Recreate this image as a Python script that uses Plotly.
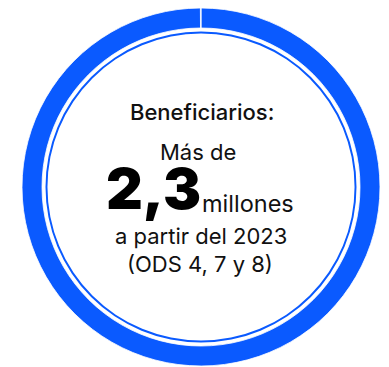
import plotly.graph_objects as go

# ---- data ----
ring_labels = ["Beneficiarios", "inicio"]
ring_values = [99.95, 0.05]
inner_values = [1]
title_text = "Beneficiarios:"
lead_text = "Más de"
big_number = "2,3"
unit_text = "millones"
line3_text = "a partir del 2023"
line4_text = "(ODS 4, 7 y 8)"

BLUE = "#0A5AFF"
W, H = 389, 367
CX, CY = 193, 179  # ring centre in plot px (from top-left of the plot div)

def xd(px):
    return px / W

def yd(px_from_top):
    return 1 - px_from_top / H

R1 = 179.0      # outer radius of the thick ring
T1 = 20.0       # thickness
R2 = 155.5      # outer radius of the thin ring
T2 = 2.0

def dom(r):
    return dict(x=[xd(CX - r), xd(CX + r)],
                y=[max(0.0, yd(CY + r)), min(1.0, yd(CY - r))])

fig = go.Figure()
fig.add_trace(go.Pie(
    labels=ring_labels, values=ring_values, hole=(R1 - T1) / R1, sort=False,
    marker=dict(colors=[BLUE, BLUE], line=dict(color="white", width=0.8)),
    textinfo="none", hoverinfo="skip", showlegend=False, domain=dom(R1),
))
fig.add_trace(go.Pie(
    values=inner_values, hole=(R2 - T2) / R2, sort=False,
    marker=dict(colors=[BLUE], line=dict(width=0)),
    textinfo="none", hoverinfo="skip", showlegend=False, domain=dom(R2),
))

FONT = "Inter"
INK = "#111111"
anns = [
    dict(text=title_text, x=xd(194), y=yd(104), xanchor="center", yanchor="middle",
         font=dict(family=FONT, size=22, color=INK, weight=500)),
    dict(text=lead_text, x=xd(189.5), y=yd(144), xanchor="center", yanchor="middle",
         font=dict(family=FONT, size=22, color=INK, weight=400)),
    dict(text=big_number, x=xd(195), y=yd(180), xanchor="right", yanchor="middle",
         font=dict(family=FONT, size=57, color="#000000", weight=900)),
    dict(text=unit_text, x=xd(192), y=yd(195), xanchor="left", yanchor="middle",
         font=dict(family=FONT, size=23.5, color=INK, weight=400)),
    dict(text=line3_text, x=xd(193), y=yd(228), xanchor="center", yanchor="middle",
         font=dict(family=FONT, size=22, color=INK, weight=400)),
    dict(text=line4_text, x=xd(191.5), y=yd(256), xanchor="center", yanchor="middle",
         font=dict(family=FONT, size=22, color=INK, weight=400)),
]
for a in anns:
    a.update(xref="paper", yref="paper", showarrow=False)

fig.update_layout(
    width=W, height=H, autosize=False,
    margin=dict(l=0, r=0, t=0, b=0),
    paper_bgcolor="white", plot_bgcolor="white",
    annotations=anns,
)
fig.write_html("out.html")
